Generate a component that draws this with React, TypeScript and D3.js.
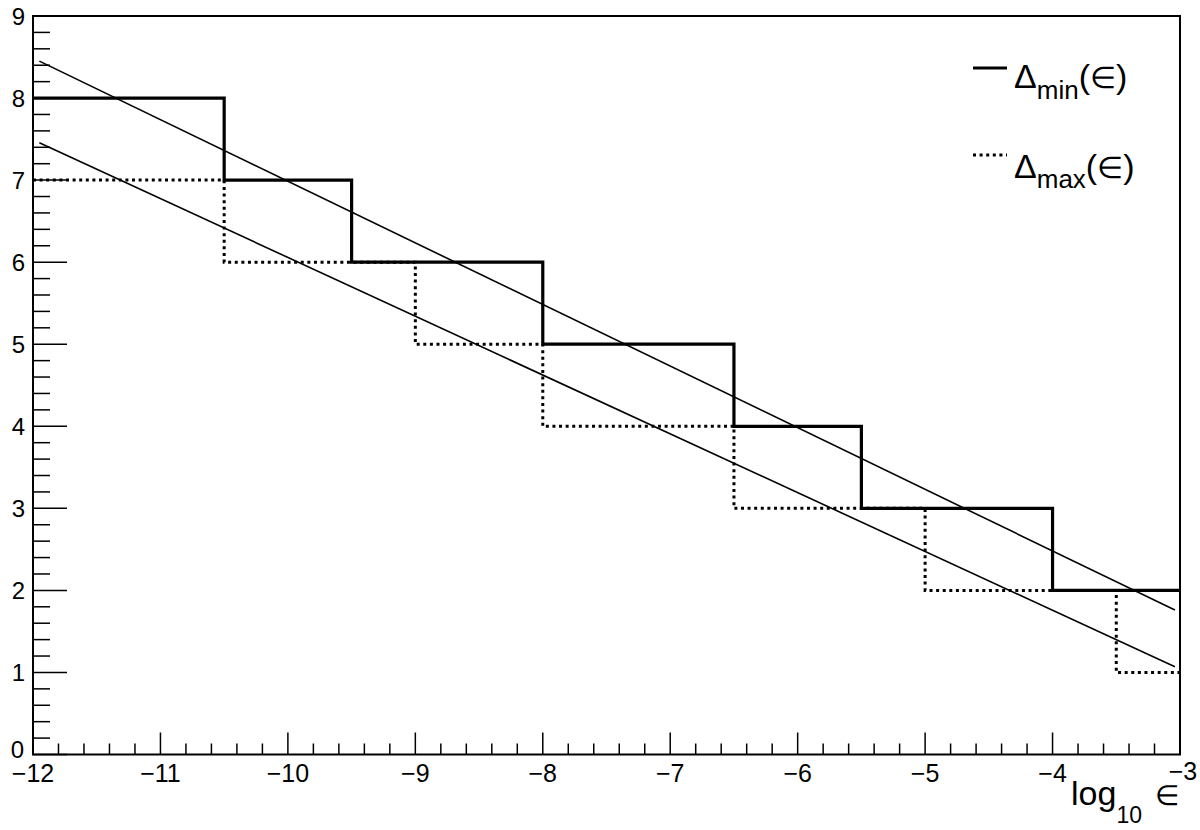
import React from "react";
import * as d3 from "d3";

const minEdges = [-12, -10.5, -9.5, -8, -6.5, -5.5, -4, -3];
const minValues = [8, 7, 6, 5, 4, 3, 2];
const maxEdges = [-12, -10.5, -9, -8, -6.5, -5, -3.5, -3];
const maxValues = [7, 6, 5, 4, 3, 2, 1];
const fitX = [-11.95, -3.04];
const fitMinY = [8.45, 1.76];
const fitMaxY = [7.455, 1.07];
const xTicks = [-12, -11, -10, -9, -8, -7, -6, -5, -4, -3];
const yTicks = [0, 1, 2, 3, 4, 5, 6, 7, 8, 9];

const W = 1200, H = 830;
const L = 33, R = 1180, T = 16, B = 754.5;
const FONT = "'Liberation Sans', Arial, Helvetica, sans-serif";

export default function App() {
  const x = d3.scaleLinear().domain([-12, -3]).range([L, R]);
  const y = d3.scaleLinear().domain([0, 9]).range([B, T]);

  const stepPath = (edges: number[], vals: number[]) => {
    const pts: [number, number][] = vals.map((v, i) => [edges[i], v]);
    pts.push([edges[edges.length - 1], vals[vals.length - 1]]);
    return d3.line<[number, number]>().x(d => x(d[0])).y(d => y(d[1])).curve(d3.curveStepAfter)(pts) || "";
  };
  const fitLine = (ys: number[]) =>
    d3.line<number>().x((_, i) => x(fitX[i])).y(d => y(d))(ys) || "";

  const xMinor: number[] = [];
  for (let i = 0; i <= 45; i++) xMinor.push(-12 + i * 0.2);
  const yMinor: number[] = [];
  for (let i = 0; i <= 45; i++) yMinor.push(i * 0.2);

  return (
    <svg width={W} height={H} style={{ position: "absolute", left: 0, top: 0, background: "#fff" }} fontFamily={FONT}>
      <rect x={0} y={0} width={W} height={H} fill="#fff" />
      {xMinor.map((v, i) => (
        <line key={"xm" + i} x1={x(v)} x2={x(v)} y1={B} y2={B - (i % 5 === 0 ? 22 : 11)} stroke="#000" strokeWidth={1.5} />
      ))}
      {yMinor.map((v, i) => (
        <line key={"ym" + i} x1={L} x2={L + (i % 5 === 0 ? 34 : 17)} y1={y(v)} y2={y(v)} stroke="#000" strokeWidth={1.5} />
      ))}
      <path d={fitLine(fitMinY)} fill="none" stroke="#000" strokeWidth={1.6} />
      <path d={fitLine(fitMaxY)} fill="none" stroke="#000" strokeWidth={1.6} />
      <path d={stepPath(maxEdges, maxValues)} fill="none" stroke="#000" strokeWidth={3} strokeDasharray="3,3.6" />
      <path d={stepPath(minEdges, minValues)} fill="none" stroke="#000" strokeWidth={3.2} />
      <rect x={L} y={T} width={R - L} height={B - T} fill="none" stroke="#000" strokeWidth={2} />
      {xTicks.map(v => (
        <text key={"xl" + v} x={x(v) + (v === -3 ? 3 : 0)} y={v === -3 ? 780 : 782} textAnchor="middle" fontSize={25}>
          {v < 0 ? "\u2212" + Math.abs(v) : String(v)}
        </text>
      ))}
      {yTicks.map(v => (
        <text key={"yl" + v} x={v === 0 ? 24 : 25} y={y(v) - (v === 0 ? 5 : 0)} textAnchor="end" dominantBaseline="central" fontSize={24}>
          {String(v)}
        </text>
      ))}
      <text x={1071} y={805} fontSize={34}>
        log
        <tspan fontSize={23} dy={18}>10</tspan>
        <tspan dy={-18} dx={13} fontSize={28}>∈</tspan>
      </text>
      <line x1={973} x2={1007} y1={68} y2={68} stroke="#000" strokeWidth={3.2} />
      <text x={1014} y={88} fontSize={34}>
        Δ<tspan fontSize={26} dy={11}>min</tspan><tspan dy={-11}>(</tspan><tspan fontSize={30}>∈</tspan><tspan>)</tspan>
      </text>
      <line x1={973} x2={1007} y1={155} y2={155} stroke="#000" strokeWidth={3} strokeDasharray="3,3.6" />
      <text x={1014} y={178} fontSize={34}>
        Δ<tspan fontSize={26} dy={10}>max</tspan><tspan dy={-10}>(</tspan><tspan fontSize={30}>∈</tspan><tspan>)</tspan>
      </text>
    </svg>
  );
}
